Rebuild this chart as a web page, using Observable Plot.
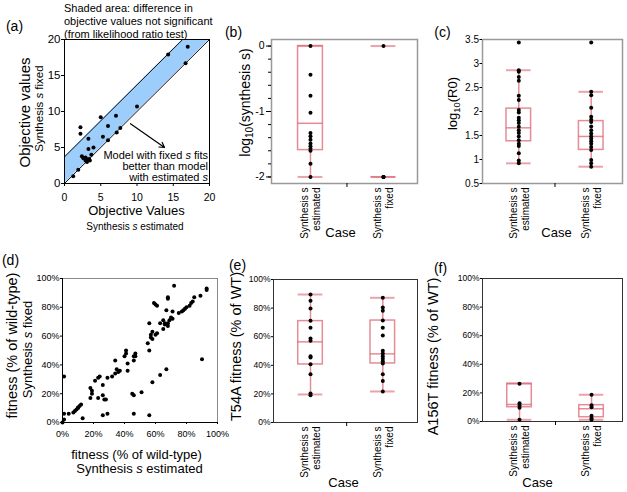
<!DOCTYPE html>
<html><head><meta charset="utf-8">
<script src="https://cdn.jsdelivr.net/npm/d3@7"></script>
<script src="https://cdn.jsdelivr.net/npm/@observablehq/plot@0.6"></script>
<style>
body{margin:0;background:#fff;}
#wrap{position:relative;width:627px;height:492px;background:#fff;overflow:hidden;}
#wrap > svg{position:absolute;overflow:visible;max-width:none;}
</style></head><body><div id="wrap"></div>
<script>
// ---------- data ----------
const cases = ["Synthesis s\nestimated", "Synthesis s\nfixed"];

// (a) objective values
const objEstimated = [1.2,1.9,2.2,2.2,2.4,2.6,2.9,2.9,3.1,3.4,3.5,3.0,3.3,3.3,4.0,3.7,5.0,5.3,6.0,6.0,7.1,7.2,7.7,10.0,14.3,16.7,17.0];
const objFixed     = [1.0,1.9,7.8,6.9,3.8,3.5,3.6,3.2,3.0,3.4,3.2,3.4,6.2,4.8,5.0,4.0,9.2,6.5,8.0,6.0,9.4,7.1,7.7,10.7,17.9,16.7,19.0];
const objTicks = [0, 5, 10, 15, 20];
const bandWidth = 3.7; // likelihood-ratio threshold
const arrowAnnot = [{x1: 9.1, y1: 8.3, x2: 13.8, y2: 5.0}];

// (b) log10(synthesis s)
const synthEst = [0,-0.44,-0.76,-1.02,-1.33,-1.38,-1.43,-1.49,-1.53,-1.57,-1.60,-1.80,-2.0];
const synthFix = [0,-2,-2,-2];
const synthBoxes = [
  {lo:-2, q1:-1.59, med:-1.18, q3:0, hi:0, caps:[-2,0]},
  {lo:-2, q1:-2, med:-2, q3:-2, hi:-2, caps:[-2,0]}
];
const synthTicks = [0,-1,-2];

// (c) log10(R0)
const r0Est = [3.44,2.86,2.83,2.72,2.64,2.33,2.24,2.03,1.98,1.87,1.82,1.76,1.68,1.61,1.55,1.48,1.40,1.33,1.28,1.13,0.98,0.92];
const r0Fix = [3.44,2.41,2.34,2.08,1.89,1.83,1.78,1.69,1.61,1.54,1.48,1.43,1.38,1.33,1.26,1.20,0.99,0.92,0.85];
const r0Boxes = [
  {lo:0.92, q1:1.38, med:1.66, q3:2.06, hi:2.86, caps:[0.92,2.86]},
  {lo:0.85, q1:1.20, med:1.48, q3:1.80, hi:2.41, caps:[0.85,2.41]}
];
const r0Ticks = [0.5,1,1.5,2,2.5,3,3.5];

// (d) fitness
const fitEst = [0.01,0.01,0.01,0.00,0.04,0.07,0.08,0.09,0.10,0.10,
  0.11,0.12,0.13,0.18,0.18,0.19,0.19,0.21,0.23,0.24,
  0.23,0.26,0.26,0.27,0.28,0.26,0.29,0.29,0.32,0.34,
  0.34,0.35,0.36,0.37,0.40,0.41,0.41,0.42,0.42,0.45,
  0.46,0.46,0.46,0.47,0.47,0.46,0.51,0.55,0.56,0.56,
  0.56,0.57,0.57,0.58,0.58,0.58,0.59,0.60,0.60,0.61,
  0.61,0.63,0.63,0.65,0.65,0.66,0.66,0.67,0.67,0.68,
  0.68,0.68,0.68,0.69,0.70,0.71,0.71,0.72,0.75,0.77,
  0.78,0.79,0.80,0.82,0.83,0.84,0.85,0.89,0.90,0.93,0.93];
const fitFixed = [0.32,0.06,0.02,0.00,0.06,0.07,0.08,0.09,0.10,0.105,
  0.115,0.125,0.03,0.17,0.24,0.22,0.20,0.29,0.31,0.32,
  0.17,0.26,0.19,0.16,0.16,0.05,0.06,0.31,0.32,0.34,
  0.43,0.37,0.35,0.36,0.46,0.50,0.48,0.36,0.41,0.20,
  0.19,0.06,0.46,0.46,0.48,0.43,0.21,0.55,0.69,0.50,
  0.05,0.59,0.61,0.63,0.58,0.28,0.83,0.82,0.61,0.62,
  0.81,0.69,0.33,0.65,0.71,0.68,0.69,0.37,0.78,0.87,
  0.86,0.69,0.67,0.71,0.73,0.77,0.72,0.95,0.76,0.77,
  0.78,0.79,0.80,0.81,0.83,0.84,0.87,0.88,0.44,0.92,0.93];
const pctTicks = [0,0.2,0.4,0.6,0.8,1];

// (e) T54A fitness
const t54Est = [0.895,0.851,0.797,0.711,0.662,0.587,0.571,0.464,0.455,0.408,0.338,0.203,0.191];
const t54Fix = [0.872,0.804,0.781,0.713,0.662,0.608,0.501,0.483,0.464,0.445,0.429,0.413,0.338,0.291,0.217];
const t54Boxes = [
  {lo:0.196, q1:0.406, med:0.564, q3:0.709, hi:0.895, caps:[0.196,0.895]},
  {lo:0.217, q1:0.413, med:0.480, q3:0.713, hi:0.872, caps:[0.217,0.872]}
];

// (f) A156T fitness
const a156Est = [0.264,0.128,0.112,0.097,0.012];
const a156Fix = [0.187,0.114,0.10,0.04,0.023,0.012];
const a156Boxes = [
  {lo:0.012, q1:0.100, med:0.119, q3:0.264, hi:0.264, caps:[0.012,0.264]},
  {lo:0.012, q1:0.030, med:0.089, q3:0.114, hi:0.187, caps:[0.012,0.187]}
];

// ---------- helpers ----------
const FONT = '"Liberation Sans", Arial, Helvetica, sans-serif';
const BOX = "#dc6673";
const HW = 0.17;
const wrap = document.getElementById("wrap");
const pct = d => Math.round(d * 100) + "%";

function markup(svg) {
  const leaves = [...svg.querySelectorAll("text, tspan")].filter(n => n.children.length === 0 && /[*~]/.test(n.textContent));
  for (const node of leaves) {
    const t = node.textContent; node.textContent = "";
    const re = /\*([^*]+)\*|~([^~]+)~/g; let last = 0, m, shift = false;
    const add = (s, attrs) => {
      const ts = document.createElementNS("http://www.w3.org/2000/svg", "tspan");
      ts.textContent = s;
      for (const k in attrs) ts.setAttribute(k, attrs[k]);
      node.appendChild(ts);
    };
    while ((m = re.exec(t))) {
      if (m.index > last) { add(t.slice(last, m.index), shift ? {dy: -3} : {}); shift = false; }
      if (m[1] != null) add(m[1], {"font-style": "italic"});
      else { add(m[2], {"font-size": "0.72em", dy: 3}); shift = true; }
      last = re.lastIndex;
    }
    if (last < t.length) add(t.slice(last), shift ? {dy: -3} : {});
  }
}

function panel(region, frame, opts, marksFn) {
  const [x0, y0, w, h] = region; const [fl, ft, fr, fb] = frame;
  const at = (X, Y) => ({frameAnchor: "top-left", dx: X - fl, dy: Y - ft});
  const label = (s, X, Y, extra = {}) => Plot.text([s], {...at(X, Y), text: d => d, fill: "black", textAnchor: "middle", lineAnchor: "middle", ...extra});
  const svg = Plot.plot({
    width: w, height: h,
    marginLeft: fl - x0, marginTop: ft - y0, marginRight: x0 + w - fr, marginBottom: y0 + h - fb,
    style: {background: "transparent", fontFamily: FONT, overflow: "visible", color: "black"},
    ...opts,
    marks: marksFn(label)
  });
  svg.style.left = x0 + "px"; svg.style.top = y0 + "px";
  markup(svg);
  wrap.appendChild(svg);
}

function boxMarks(boxes, est, fix) {
  const caps = boxes.flatMap((b, i) => b.caps.map(v => ({i, v})));
  const pts = [est, fix].flatMap((arr, i) => arr.map(v => ({i, v})));
  const common = {stroke: BOX, strokeWidth: 1.5, strokeOpacity: 0.75};
  return [
    Plot.ruleX(boxes, {x: (d, i) => i, y1: "lo", y2: "q1", ...common}),
    Plot.ruleX(boxes, {x: (d, i) => i, y1: "q3", y2: "hi", ...common}),
    Plot.rect(boxes, {x1: (d, i) => i - HW, x2: (d, i) => i + HW, y1: "q1", y2: "q3", fill: "none", ...common}),
    Plot.ruleY(boxes, {y: "med", x1: (d, i) => i - HW, x2: (d, i) => i + HW, ...common}),
    Plot.ruleY(caps, {y: "v", x1: d => d.i - HW, x2: d => d.i + HW, stroke: BOX, strokeWidth: 2, strokeOpacity: 0.6}),
    Plot.dot(pts, {x: "i", y: "v", r: 2, fill: "black", stroke: "none"})
  ];
}
function caseLabels() {
  return Plot.text(cases, {x: (d, i) => i, frameAnchor: "bottom", dy: 4, rotate: -90, textAnchor: "end", lineAnchor: "middle", lineHeight: 1.2, fontSize: 10, fill: "black", text: d => d});
}
function midTick() {
  return Plot.axisX({ticks: [d3.mean(cases, (d, i) => i)], tickSize: 4, tickFormat: () => "", label: null});
}

// ---------- (a) ----------
const objMax = d3.max(objTicks);
panel([0, 0, 232, 240], [64, 39, 209, 183], {
  x: {domain: [0, objMax]}, y: {domain: [0, objMax]}
}, label => [
  Plot.areaY([0, objMax - bandWidth, objMax], {x: d => d, y1: d => d, y2: d => Math.min(d + bandWidth, objMax), fill: "#9ccdfb"}),
  Plot.line([[0, bandWidth], [objMax - bandWidth, objMax]], {stroke: "#111", strokeWidth: 1}),
  Plot.line([[0, 0], [objMax, objMax]], {stroke: "#111", strokeWidth: 1}),
  Plot.frame({stroke: "black"}),
  Plot.axisY({ticks: objTicks, tickSize: 3, tickPadding: 1, fontSize: 11.5, label: null}),
  Plot.axisX({ticks: objTicks, tickSize: 3, tickPadding: 7, fontSize: 10.5, label: null}),
  Plot.dot(objEstimated, {x: d => d, y: (d, i) => objFixed[i], r: 2, fill: "black", stroke: "none"}),
  Plot.arrow(arrowAnnot, {x1: "x1", y1: "y1", x2: "x2", y2: "y2", stroke: "black", strokeWidth: 1.2, headLength: 7}),
  label("(a)", 14, 26, {fontSize: 14}),
  label("Shaded area: difference in\nobjective values not significant\n(from likelihood ratio test)", 63.5, 20, {textAnchor: "start", fontSize: 11, lineHeight: 1.2}),
  label("Model with fixed *s* fits\nbetter than model\nwith estimated *s*", 207.5, 166, {textAnchor: "end", fontSize: 11, lineHeight: 1.0}),
  label("Objective Values", 136, 210, {fontSize: 13}),
  label("Synthesis *s* estimated", 134.5, 226, {fontSize: 10}),
  label("Objective values", 25, 112, {fontSize: 15, rotate: -90}),
  label("Synthesis *s* fixed", 39, 108, {fontSize: 11.5, rotate: -90})
]);

// ---------- (b) ----------
panel([215, 0, 205, 240], [271, 39, 417, 183], {
  x: {domain: [-0.534, 1.466]}, y: {domain: [-2.1, 0.1]}
}, label => [
  Plot.frame({stroke: "#999", strokeWidth: 1.5}),
  Plot.axisY({ticks: d3.range(-2, 0.01, 0.2), tickSize: 3, tickFormat: () => "", label: null}),
  Plot.axisY({ticks: synthTicks, tickSize: 5, tickPadding: 2, fontSize: 10.5, tickFormat: d => String(d), label: null}),
  midTick(),
  ...boxMarks(synthBoxes, synthEst, synthFix),
  caseLabels(),
  label("(b)", 233, 32, {fontSize: 14}),
  label("log~10~(synthesis s)", 245, 102, {fontSize: 14, rotate: -90}),
  label("Case", 340, 232, {fontSize: 13})
]);

// ---------- (c) ----------
panel([425, 0, 202, 240], [482, 39, 622, 183], {
  x: {domain: [-0.501, 1.432]}, y: {domain: [0.5, 3.5]}
}, label => [
  Plot.frame({stroke: "#999", strokeWidth: 1.5}),
  Plot.axisY({ticks: r0Ticks, tickSize: 2.5, tickPadding: 1, fontSize: 10, tickFormat: d => String(d), label: null}),
  midTick(),
  ...boxMarks(r0Boxes, r0Est, r0Fix),
  caseLabels(),
  label("(c)", 442, 32, {fontSize: 14}),
  label("log~10~(R0)", 452, 103, {fontSize: 13, rotate: -90}),
  label("Case", 556, 232, {fontSize: 13})
]);

// ---------- (d) ----------
panel([0, 245, 232, 247], [62, 278, 217, 422], {
  x: {domain: [0, 1]}, y: {domain: [0, 1]}
}, label => [
  Plot.ruleX([1], {stroke: "#888"}),
  Plot.ruleY([1], {stroke: "#888"}),
  Plot.ruleX([0], {stroke: "black"}),
  Plot.ruleY([0], {stroke: "black"}),
  Plot.axisY({ticks: pctTicks, tickSize: 2, tickPadding: 1, fontSize: 9, tickFormat: pct, label: null}),
  Plot.axisX({ticks: pctTicks, tickSize: 2, tickPadding: 6, fontSize: 9, tickFormat: pct, label: null}),
  Plot.dot(fitEst, {x: d => d, y: (d, i) => fitFixed[i], r: 2, fill: "black", stroke: "none"}),
  label("(d)", 10, 260, {fontSize: 14}),
  label("fitness (% of wild-type)", 12, 345, {fontSize: 14.5, rotate: -90}),
  label("Synthesis *s* fixed", 27, 349, {fontSize: 13, rotate: -90}),
  label("fitness (% of wild-type)", 136, 454, {fontSize: 13}),
  label("Synthesis *s* estimated", 139, 468, {fontSize: 13})
]);

// ---------- (e) ----------
panel([222, 245, 200, 247], [273, 279, 417, 422], {
  x: {domain: [-0.512, 1.48]}, y: {domain: [0, 1]}
}, label => [
  Plot.frame({stroke: "#333"}),
  Plot.axisY({ticks: pctTicks, tickSize: 2, tickPadding: 1, fontSize: 8.5, tickFormat: pct, label: null}),
  midTick(),
  ...boxMarks(t54Boxes, t54Est, t54Fix),
  caseLabels(),
  label("(e)", 237, 265, {fontSize: 14}),
  label("T54A fitness (% of WT)", 236, 346, {fontSize: 14.5, rotate: -90}),
  label("Case", 343, 482, {fontSize: 13})
]);

// ---------- (f) ----------
panel([425, 245, 202, 247], [482, 278, 622, 421], {
  x: {domain: [-0.514, 1.43]}, y: {domain: [0, 1]}
}, label => [
  Plot.frame({stroke: "#333"}),
  Plot.axisY({ticks: pctTicks, tickSize: 2, tickPadding: 1, fontSize: 8.5, tickFormat: pct, label: null}),
  midTick(),
  ...boxMarks(a156Boxes, a156Est, a156Fix),
  caseLabels(),
  label("(f)", 440, 268, {fontSize: 14}),
  label("A156T fitness (% of WT)", 433, 356, {fontSize: 14.5, rotate: -90}),
  label("Case", 537, 482, {fontSize: 13})
]);
</script></body></html>
